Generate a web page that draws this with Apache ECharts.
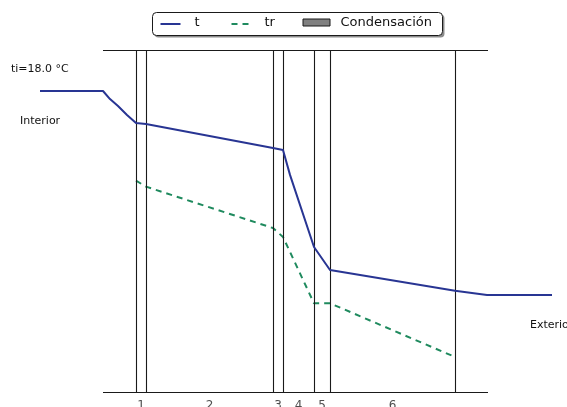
<!DOCTYPE html>
<html>
<head>
<meta charset="utf-8">
<script src="https://cdn.jsdelivr.net/npm/echarts@6/dist/echarts.min.js"></script>
<style>
  html, body { margin: 0; padding: 0; background: #fff; }
  #chart { width: 567px; height: 407px; }
</style>
</head>
<body>
<div id="chart"></div>
<script>
// Position through the wall (arbitrary length units, 0 = inner face of the drawing frame)
var wallStart = 0;
var wallEnd = 385;
// Extent of the interior / exterior air shown beyond the frame
var airStart = -63;
var airEnd = 449;
// Layer boundaries (interface positions)
var layerBounds = [33, 43, 170, 180, 211, 227, 352];
// Layer numbers placed at layer centres
var layerLabels = ['1', '2', '3', '4', '5', '6'];

// Interior / exterior temperatures (°C)
var ti = 18.0;
var te = 0.0;

// Temperature profile t (°C) along the wall
var tX = [-63, 0, 7, 15, 24, 33, 43, 170, 180, 187, 211, 227, 352, 384, 449];
var tY = [18.0, 18.0, 17.29, 16.68, 15.88, 15.18, 15.09, 12.97, 12.79, 10.6, 4.24, 2.21, 0.38, 0.0, 0.0];

// Dew point profile tr (°C)
var trX = [33, 43, 170, 180, 211, 227, 352];
var trY = [10.09, 9.56, 5.91, 5.12, -0.73, -0.73, -5.47];

// Y range of the plot (°C)
var yMin = -8.56;
var yMax = 21.62;

// Series names shown in the key
var seriesNames = ['t', 'tr', 'Condensación'];

var colorT = '#283593';
var colorTr = '#1f8a5e';
var frameColor = '#1a1a1a';

function pairs(xs, ys) {
  return xs.map(function (x, i) { return [x, ys[i]]; });
}

var labelData = layerLabels.map(function (name, i) {
  return { name: name, value: [(layerBounds[i] + layerBounds[i + 1]) / 2, yMin] };
});

// Frame lines: top and bottom edges plus every layer interface
var frameLines = [
  [{ coord: [wallStart, yMax] }, { coord: [wallEnd, yMax] }],
  [{ coord: [wallStart, yMin] }, { coord: [wallEnd, yMin] }]
].concat(layerBounds.map(function (b) {
  return [{ coord: [b, yMin] }, { coord: [b, yMax] }];
}));

var chart = echarts.init(document.getElementById('chart'), null, { renderer: 'canvas' });

var font = 'DejaVu Sans';

// Key drawn as a small group of shapes and texts
var keyFont = '13px "DejaVu Sans"';
var keyGroup = {
  type: 'group',
  left: 152,
  top: 12,
  children: [
    { type: 'rect', shape: { x: 2, y: 2, width: 290, height: 23, r: 4 }, style: { fill: 'rgba(0,0,0,0.45)' }, z: 10 },
    { type: 'rect', shape: { x: 0, y: 0, width: 290, height: 23, r: 4 }, style: { fill: '#fff', stroke: frameColor, lineWidth: 1 }, z: 11 },
    { type: 'line', shape: { x1: 8, y1: 11.5, x2: 28, y2: 11.5 }, style: { stroke: colorT, lineWidth: 2 }, z: 12 },
    { type: 'text', x: 42, y: 4, style: { text: seriesNames[0], font: keyFont, fill: '#111' }, z: 12 },
    { type: 'line', shape: { x1: 79, y1: 11.5, x2: 97, y2: 11.5 }, style: { stroke: colorTr, lineWidth: 2, lineDash: [6, 5] }, z: 12 },
    { type: 'text', x: 112, y: 4, style: { text: seriesNames[1], font: keyFont, fill: '#111' }, z: 12 },
    { type: 'rect', shape: { x: 150.5, y: 6.5, width: 27, height: 7 }, style: { fill: '#808080', stroke: frameColor, lineWidth: 1 }, z: 12 },
    { type: 'text', x: 188, y: 4, style: { text: seriesNames[2], font: keyFont, fill: '#111' }, z: 12 }
  ]
};

chart.setOption({
  animation: false,
  textStyle: { fontFamily: font },
  grid: { left: 40, right: 15, top: 50, bottom: 15, containLabel: false },
  xAxis: { type: 'value', min: airStart, max: airEnd, show: false },
  yAxis: { type: 'value', min: yMin, max: yMax, show: false },
  series: [
    {
      name: seriesNames[0],
      type: 'line',
      data: pairs(tX, tY),
      symbol: 'none',
      lineStyle: { color: colorT, width: 2 },
      itemStyle: { color: colorT },
      z: 5,
      markLine: {
        silent: true,
        symbol: 'none',
        label: { show: false },
        lineStyle: { color: frameColor, width: 1.1, type: 'solid' },
        data: frameLines
      }
    },
    {
      name: seriesNames[1],
      type: 'line',
      data: pairs(trX, trY),
      symbol: 'none',
      lineStyle: { color: colorTr, width: 2, type: [6, 5] },
      itemStyle: { color: colorTr },
      z: 4
    },
    {
      name: 'layers',
      type: 'scatter',
      data: labelData,
      clip: false,
      symbolSize: 0,
      silent: true,
      label: {
        show: true,
        position: 'bottom',
        distance: 8,
        formatter: '{b}',
        fontFamily: font,
        fontSize: 12,
        color: '#222'
      }
    }
  ],
  graphic: [
    keyGroup,
    { type: 'text', left: 11, top: 64, style: { text: 'ti=' + ti.toFixed(1) + ' °C', font: '11px "DejaVu Sans"', fill: '#111' } },
    { type: 'text', left: 20, top: 116, style: { text: 'Interior', font: '11px "DejaVu Sans"', fill: '#111' } },
    { type: 'text', left: 530, top: 320, style: { text: 'Exterior', font: '11px "DejaVu Sans"', fill: '#111' } }
  ]
});
</script>
</body>
</html>
